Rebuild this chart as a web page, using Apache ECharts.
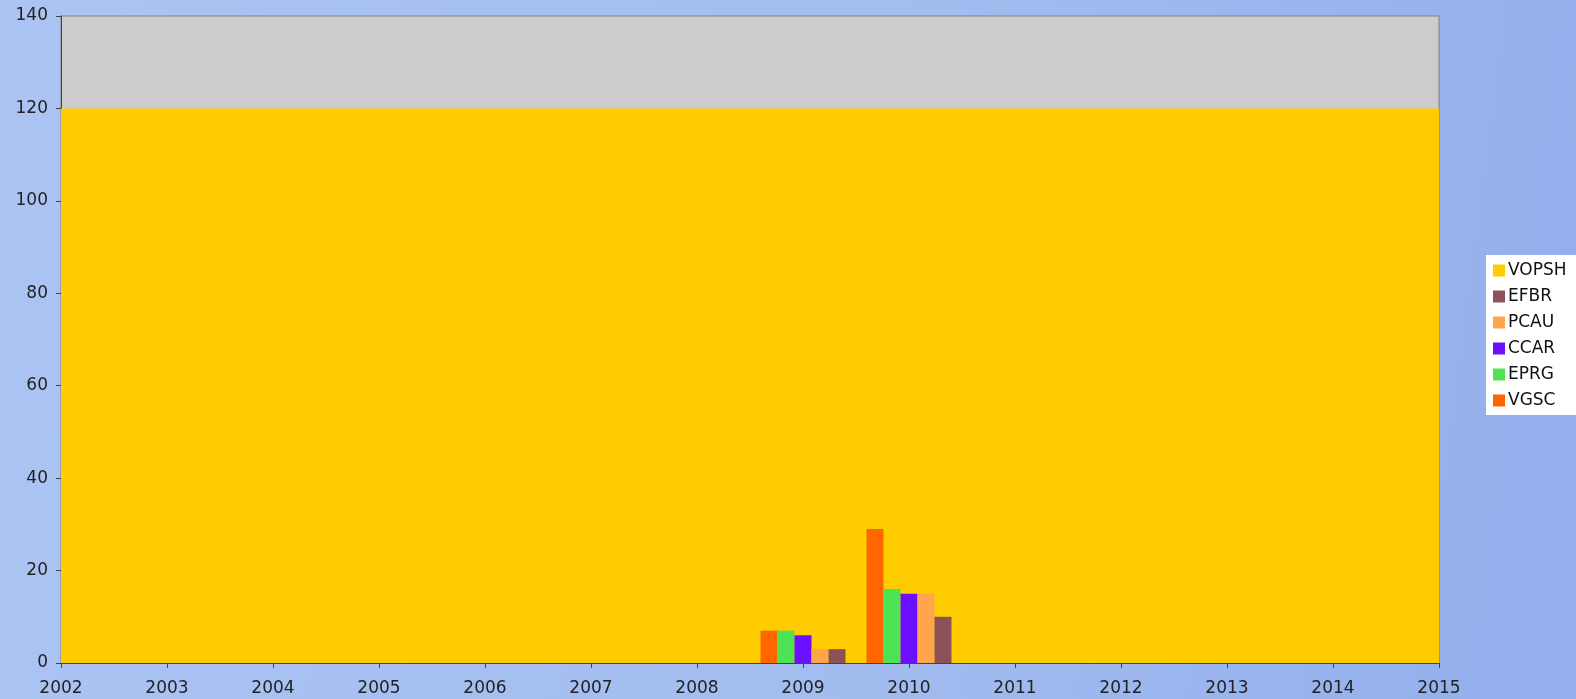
<!DOCTYPE html>
<html>
<head>
<meta charset="utf-8">
<script src="https://cdn.jsdelivr.net/npm/echarts@6/dist/echarts.min.js"></script>
<style>
html, body { margin: 0; padding: 0; }
#chart { width: 1576px; height: 699px; }
</style>
</head>
<body>
<div id="chart"></div>
<script>
// 数据
var years = [2009, 2010];
var vopshX = [2002, 2015];
var vopshY = [120, 120];
var vgsc = [7, 29];
var eprg = [7, 16];
var ccar = [6, 15];
var pcau = [3, 15];
var efbr = [3, 10];
var legendOrder = ['VOPSH', 'EFBR', 'PCAU', 'CCAR', 'EPRG', 'VGSC'];

function pairs(xs, ys) {
    return xs.map(function (x, i) { return [x, ys[i]]; });
}

var chart = echarts.init(document.getElementById('chart'));

function bar(name, color, values) {
    return {
        name: name,
        type: 'bar',
        barWidth: 17,
        barGap: '0%',
        itemStyle: { color: color },
        data: pairs(years, values)
    };
}

var option = {
    animation: false,
    backgroundColor: {
        type: 'linear', x: 0, y: 0, x2: 1, y2: 0.3,
        colorStops: [
            { offset: 0, color: '#abc4f3' },
            { offset: 0.6, color: '#a2bcf0' },
            { offset: 1, color: '#93b0ec' }
        ]
    },
    textStyle: { fontFamily: 'DejaVu Sans' },
    grid: {
        left: 61, right: 137, top: 16, bottom: 36,
        show: true,
        backgroundColor: '#cccccc',
        borderColor: '#808080',
        borderWidth: 1
    },
    legend: {
        orient: 'vertical',
        left: 1486,
        top: 255,
        backgroundColor: '#ffffff',
        padding: [7, 10, 6, 7],
        itemWidth: 12,
        itemHeight: 12,
        itemGap: 9,
        icon: 'rect',
        data: legendOrder,
        textStyle: { color: '#111', fontSize: 17, lineHeight: 16, padding: [0, 0, 0, -2] }
    },
    xAxis: {
        type: 'value',
        min: 2002,
        max: 2015,
        interval: 1,
        splitLine: { show: false },
        axisLine: { show: true, onZero: false, lineStyle: { color: '#444', width: 1 } },
        axisTick: { show: true, length: 5, lineStyle: { color: '#444' } },
        axisLabel: {
            color: '#222', fontSize: 17, margin: 17,
            formatter: function (v) { return String(v); }
        }
    },
    yAxis: {
        type: 'value',
        min: 0,
        max: 140,
        interval: 20,
        splitLine: { show: false },
        axisLine: { show: true, lineStyle: { color: '#444', width: 1 } },
        axisTick: { show: true, length: 5, lineStyle: { color: '#444' } },
        axisLabel: { color: '#222', fontSize: 17, margin: 13 }
    },
    series: [
        {
            name: 'VOPSH',
            type: 'line',
            symbol: 'none',
            itemStyle: { color: '#ffcc00' },
            lineStyle: { width: 0 },
            areaStyle: { color: '#ffcc00', opacity: 1 },
            data: pairs(vopshX, vopshY),
            z: 1
        },
        bar('VGSC', '#ff6600', vgsc),
        bar('EPRG', '#4ee354', eprg),
        bar('CCAR', '#6a0fff', ccar),
        bar('PCAU', '#ffa64d', pcau),
        bar('EFBR', '#8b5358', efbr)
    ]
};

chart.setOption(option);
</script>
</body>
</html>
